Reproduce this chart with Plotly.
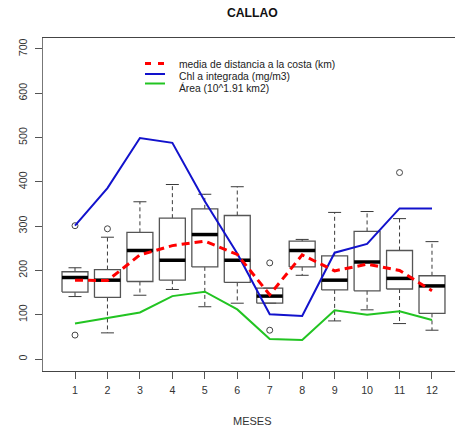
import plotly.graph_objects as go

# ---------------- data ----------------
months = [1, 2, 3, 4, 5, 6, 7, 8, 9, 10, 11, 12]
month_labels = ["1", "2", "3", "4", "5", "6", "7", "8", "9", "10", "11", "12"]

# boxplot statistics (distance to coast, km)
box_lower = [141, 59, 144, 157, 118, 126, 126, 189, 86, 111, 80, 65]
box_q1 = [151, 139, 175, 178, 208, 173, 126, 208, 156, 154, 158, 103]
box_median = [184, 178, 245, 223, 281, 223, 142, 245, 178, 219, 182, 165]
box_q3 = [197, 202, 286, 318, 339, 324, 160, 266, 233, 288, 245, 188]
box_upper = [206, 275, 355, 394, 372, 389, 160, 270, 331, 333, 317, 265]

outlier_month = [1, 1, 2, 7, 7, 11]
outlier_value = [301, 54, 294, 217, 65, 421]

mean_distance = [178, 177, 235, 256, 266, 236, 145, 235, 199, 214, 200, 154]
chl_integrated = [301, 386, 499, 488, 356, 238, 101, 97, 240, 260, 340, 340]
area = [80, 93, 105, 142, 152, 112, 45, 43, 110, 100, 108, 88]

legend_labels = ["media de distancia a la costa (km)",
                 "Chl a integrada (mg/m3)",
                 "Área (10^1.91 km2)"]
title_text = "CALLAO"
xlabel_text = "MESES"
y_ticks = [0, 100, 200, 300, 400, 500, 600, 700]

# ---------------- figure ----------------
W, H = 455, 427
ML, MR, MT, MB = 43, 0, 38, 427 - 371
PW, PH = W - ML - MR, H - MT - MB


def px_x(p):  # screen pixel -> paper
    return (p - ML) / PW


def px_y(p):
    return (MT + PH - p) / PH


BW = 0.4   # half box width
SW = 0.2   # half staple width

bx, by = [], []
mx, my = [], []
wx, wy = [], []
sx, sy = [], []
for m, lo, q1, md, q3, up in zip(months, box_lower, box_q1, box_median, box_q3, box_upper):
    bx += [m - BW, m + BW, m + BW, m - BW, m - BW, None]
    by += [q1, q1, q3, q3, q1, None]
    mx += [m - BW, m + BW, None]
    my += [md, md, None]
    wx += [m, m, None, m, m, None]
    wy += [q3, up, None, q1, lo, None]
    sx += [m - SW, m + SW, None, m - SW, m + SW, None]
    sy += [up, up, None, lo, lo, None]

fig = go.Figure()
fig.add_trace(go.Scatter(x=wx, y=wy, mode="lines", showlegend=False, hoverinfo="skip",
                         line=dict(color="#3a3a3a", width=1, dash="4px,3px")))
fig.add_trace(go.Scatter(x=sx, y=sy, mode="lines", showlegend=False, hoverinfo="skip",
                         line=dict(color="#3a3a3a", width=1)))
fig.add_trace(go.Scatter(x=bx, y=by, mode="lines", showlegend=False, hoverinfo="skip",
                         line=dict(color="#555555", width=1.3)))
fig.add_trace(go.Scatter(x=mx, y=my, mode="lines", showlegend=False, hoverinfo="skip",
                         line=dict(color="#000000", width=3.5)))
fig.add_trace(go.Scatter(x=outlier_month, y=outlier_value, mode="markers", showlegend=False,
                         marker=dict(symbol="circle-open", size=6,
                                     line=dict(color="#444444", width=1), color="#444444")))

fig.add_trace(go.Scatter(x=months, y=area, mode="lines", name=legend_labels[2], showlegend=False,
                         line=dict(color="#22c422", width=2)))
fig.add_trace(go.Scatter(x=months, y=chl_integrated, mode="lines", name=legend_labels[1], showlegend=False,
                         line=dict(color="#1212cc", width=2)))
fig.add_trace(go.Scatter(x=months, y=mean_distance, mode="lines", name=legend_labels[0], showlegend=False,
                         line=dict(color="#ff0000", width=3, dash="8px,5px")))

# manual legend (R style, compact)
leg_colors = ["#ff0000", "#1212cc", "#22c422"]
leg_dash = ["6px,7px", "solid", "solid"]
leg_widths = [3, 2, 2]
leg_line_y = [63.5, 74, 83.5]
leg_text_y = [64.8, 76.2, 88.0]
shapes = []
annotations = []
for lab, c, d, w, ly, ty in zip(legend_labels, leg_colors, leg_dash, leg_widths, leg_line_y, leg_text_y):
    shapes.append(dict(type="line", xref="paper", yref="paper",
                       x0=px_x(145), x1=px_x(165), y0=px_y(ly), y1=px_y(ly),
                       line=dict(color=c, width=w, dash=d)))
    annotations.append(dict(text=lab, xref="paper", yref="paper", x=px_x(176.5), y=px_y(ty),
                            xanchor="left", yanchor="middle", showarrow=False,
                            font=dict(family="Liberation Sans, Arial", size=10.3, color="#222222")))

annotations.append(dict(text=xlabel_text, xref="paper", yref="paper", x=px_x(252), y=px_y(421),
                        xanchor="center", yanchor="middle", showarrow=False,
                        font=dict(family="Liberation Sans, Arial", size=11, color="#333333")))
annotations.append(dict(text="<b>" + title_text + "</b>", xref="paper", yref="paper",
                        x=px_x(252.5), y=px_y(13), xanchor="center", yanchor="middle", showarrow=False,
                        font=dict(family="Liberation Sans, Arial", size=12.2, color="#111111")))

fig.update_layout(
    width=W, height=H,
    margin=dict(l=ML, r=MR, t=MT, b=MB, pad=0),
    paper_bgcolor="white", plot_bgcolor="white",
    shapes=shapes, annotations=annotations,
    font=dict(family="Liberation Sans, Arial", color="#333333"),
)
fig.update_xaxes(range=[0.014, 12.709], tickmode="array", tickvals=months, ticktext=month_labels,
                 showgrid=False, zeroline=False, showline=True, linecolor="#444444", linewidth=1.3,
                 mirror=True, ticks="outside", ticklen=7, tickcolor="#555555", tickwidth=1,
                 tickfont=dict(size=10.7, color="#333333"), ticklabelstandoff=2)
fig.update_yaxes(range=[-27.1, 724.8], tickmode="array", tickvals=y_ticks,
                 showgrid=False, zeroline=False, showline=True, linecolor="#777777", linewidth=1.3,
                 ticks="outside", ticklen=7, tickcolor="#555555", tickwidth=1, tickangle=-90,
                 tickfont=dict(size=10.7, color="#333333"), ticklabelstandoff=4)

fig.write_html("out.html", config={"displayModeBar": False},
               post_script="document.body.style.margin='0px';document.body.style.overflow='hidden';")
